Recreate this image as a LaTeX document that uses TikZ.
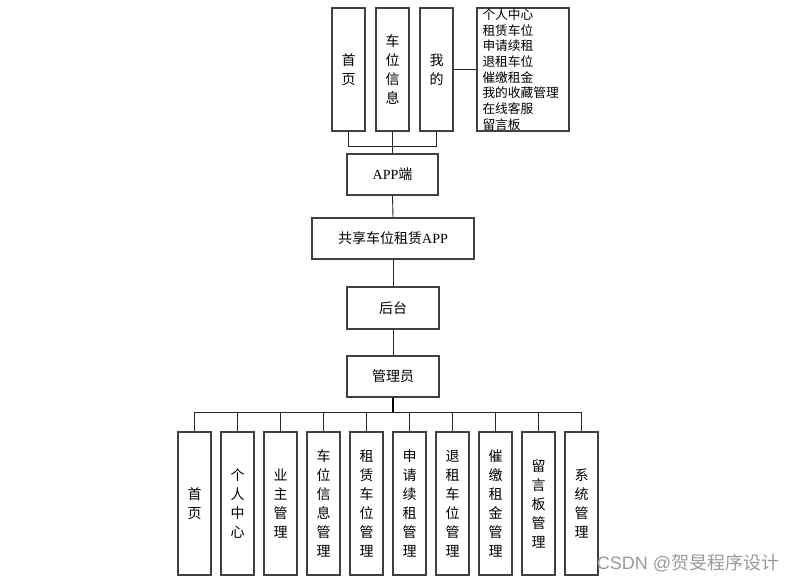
\documentclass[tikz,border=0pt]{standalone}
\usepackage{fontspec}
\setmainfont{Liberation Serif}
\newfontfamily\cjk{Noto Sans CJK SC}
\newfontfamily\lat{Liberation Serif}
\newfontfamily\wsans{Liberation Sans}
\begin{document}
\begin{tikzpicture}[x=1pt,y=-1pt,
  box/.style={draw=black!75,line width=1.2pt,inner sep=0pt,align=center,font=\cjk\fontsize{14}{19}\selectfont},
  vbox/.style={box,minimum width=33pt,minimum height=143pt},
  tbox/.style={box,minimum width=33pt,minimum height=123pt},
  hbox/.style={box,minimum height=41pt},
  link/.style={draw=black!85,line width=0.9pt}]
\useasboundingbox (0,0) rectangle (800,583);
% top
\node[tbox] (t1) at (348.5,69.5) {首\\页};
\node[tbox] (t2) at (392.5,69.5) {车\\位\\信\\息};
\node[tbox] (t3) at (436.5,69.5) {我\\的};
\node[box,minimum width=92pt,minimum height=123pt,text width=81pt,inner xsep=5.5pt,align=left,font=\cjk\fontsize{12.7}{15.7}\selectfont] (L) at (523,69.5)
  {个人中心\\租赁车位\\申请续租\\退租车位\\催缴租金\\我的收藏管理\\在线客服\\留言板};
\draw[link] (t3.east) -- (L.west);
\node[hbox,minimum width=91pt] (app) at (392.5,174.5) {{\lat APP}端};
\draw[link] (t1.south) -- ++(0,15) coordinate (tb1) -| (t3.south);
\draw[link] (t2.south) -- (app.north);
\node[hbox,minimum width=162pt] (share) at (393,238.5) {共享车位租赁{\lat APP}};
\node[hbox,minimum width=92pt,minimum height=42pt] (back) at (393,308) {后台};
\node[hbox,minimum width=92pt] (admin) at (393,376.5) {管理员};
\draw[link] (app.south) -- (share.north);
\draw[link] (share.south) -- (back.north);
\draw[link] (back.south) -- (admin.north);
% bottom
\node[vbox] (b1) at (194.5,503.5) {首\\页};
\node[vbox] (b2) at (237.5,503.5) {个\\人\\中\\心};
\node[vbox] (b3) at (280.5,503.5) {业\\主\\管\\理};
\node[vbox] (b4) at (323.5,503.5) {车\\位\\信\\息\\管\\理};
\node[vbox] (b5) at (366.5,503.5) {租\\赁\\车\\位\\管\\理};
\node[vbox] (b6) at (409.5,503.5) {申\\请\\续\\租\\管\\理};
\node[vbox] (b7) at (452.5,503.5) {退\\租\\车\\位\\管\\理};
\node[vbox] (b8) at (495.5,503.5) {催\\缴\\租\\金\\管\\理};
\node[vbox] (b9) at (538.5,503.5) {留\\言\\板\\管\\理};
\node[vbox] (b10) at (581.5,503.5) {系\\统\\管\\理};
\coordinate (bus) at (393,412);
\draw[draw=black,line width=2pt] (admin.south) -- (bus);
\draw[link] (b1.north) -- (b1.north |- bus) -- (b10.north |- bus) -- (b10.north);
\foreach \i in {2,...,9} \draw[link] (b\i.north) -- (b\i.north |- bus);
\node[text=black!40,font=\fontsize{18}{20}\selectfont,inner sep=0pt] (wm) at (688,563) {{\wsans CSDN @}{\cjk 贺旻程序设计}};
\end{tikzpicture}
\end{document}
